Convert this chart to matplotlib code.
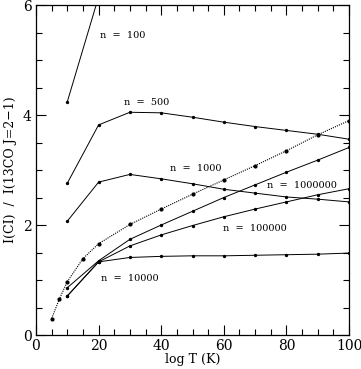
import matplotlib
matplotlib.use("Agg")
import matplotlib.pyplot as plt
from matplotlib.ticker import MultipleLocator

# temperature grid for the density models
T = [10, 20, 30, 40, 50, 60, 70, 80, 90, 100]
T_dense = [5, 7.5, 10, 15, 20, 30, 40, 50, 60, 70, 80, 90, 100]

n100_T = [10, 20]
n100 = [4.24, 6.15]
n500 = [2.76, 3.82, 4.05, 4.04, 3.96, 3.87, 3.79, 3.72, 3.65, 3.56]
n1000 = [2.07, 2.78, 2.92, 2.84, 2.75, 2.65, 2.58, 2.51, 2.47, 2.42]
n10000 = [0.71, 1.33, 1.41, 1.43, 1.44, 1.44, 1.45, 1.46, 1.47, 1.49]
n100000 = [0.71, 1.33, 1.62, 1.82, 1.99, 2.15, 2.29, 2.42, 2.55, 2.66]
n1000000 = [0.86, 1.35, 1.74, 2.00, 2.25, 2.50, 2.73, 2.96, 3.18, 3.41]
dotted = [0.30, 0.66, 0.97, 1.39, 1.66, 2.01, 2.29, 2.56, 2.82, 3.08, 3.35, 3.64, 3.90]

labels = ["n  =  100", "n  =  500", "n  =  1000", "n  =  1000000", "n  =  100000", "n  =  10000"]
label_pos = [(20.3, 5.44), (28.1, 4.23), (42.8, 3.02), (73.7, 2.71), (59.8, 1.93), (20.8, 1.02)]

plt.rcParams["font.family"] = "DejaVu Serif"

fig = plt.figure(figsize=(3.61, 3.69), dpi=100)
ax = fig.add_axes([0.0997, 0.0921, 0.8671, 0.8943])

kw = dict(color="black", lw=0.7, marker="o", ms=1.4)
ax.plot(n100_T, n100, **kw)
for ys in [n500, n1000, n10000, n100000, n1000000]:
    ax.plot(T, ys, **kw)
ax.plot(T_dense, dotted, color="black", lw=0.8, ls=(0, (1, 1)), marker="o", ms=2.0)

for lab, (x, y) in zip(labels, label_pos):
    ax.text(x, y, lab, fontsize=7, va="center", ha="left")

ax.set_xlim(0, 100)
ax.set_ylim(0, 6)
ax.xaxis.set_major_locator(MultipleLocator(20))
ax.xaxis.set_minor_locator(MultipleLocator(5))
ax.yaxis.set_major_locator(MultipleLocator(2))
ax.yaxis.set_minor_locator(MultipleLocator(0.5))
ax.tick_params(which="both", direction="in", top=True, right=True, labelsize=10, width=0.8)
ax.tick_params(which="major", length=7, pad=3)
ax.tick_params(which="minor", length=4)
for s in ax.spines.values():
    s.set_linewidth(0.9)

ax.set_xlabel("log T (K)", fontsize=9, labelpad=0)
ax.set_ylabel("I(CI)  /  I(13CO J=2\u22121)", fontsize=9, labelpad=4)

fig.savefig("out.png", dpi=100)
